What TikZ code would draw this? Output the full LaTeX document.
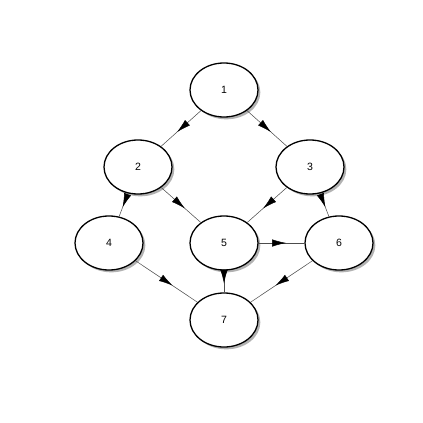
\documentclass[tikz,border=0pt]{standalone}
\usepackage{fontspec}
\setmainfont{Liberation Sans}
\usetikzlibrary{arrows.meta, decorations.markings, shadows, shapes.geometric}

\begin{document}
\begin{tikzpicture}[x=0.03cm, y=-0.03cm,
  vertex/.style={ellipse, draw, line width=1.1pt, fill=white, minimum width=2.04cm,
    minimum height=1.62cm, inner sep=0pt, font=\small,
    drop shadow={shadow xshift=0.07cm, shadow yshift=-0.07cm, fill=black!30, opacity=1}},
  midarrow/.style={draw=black!70, line width=0.45pt, postaction={decorate},
    decoration={markings, mark=at position 0.6 with {\arrow[black]{Latex[length=0.42cm, width=0.22cm]}}}}]
\useasboundingbox (0,0) rectangle (423,423);
\node[vertex] (n1) at (224,90) {1};
\node[vertex] (n2) at (138,167) {2};
\node[vertex] (n3) at (310,167) {3};
\node[vertex] (n4) at (109,243) {4};
\node[vertex] (n5) at (224,243) {5};
\node[vertex] (n6) at (339,243) {6};
\node[vertex] (n7) at (224,320) {7};
\foreach \a/\b in {n1/n2, n1/n3, n2/n4, n2/n5, n3/n5, n3/n6, n5/n6, n5/n7, n4/n7, n6/n7}{
  \path[midarrow] (\a) -- (\b);
}
\end{tikzpicture}
\end{document}
